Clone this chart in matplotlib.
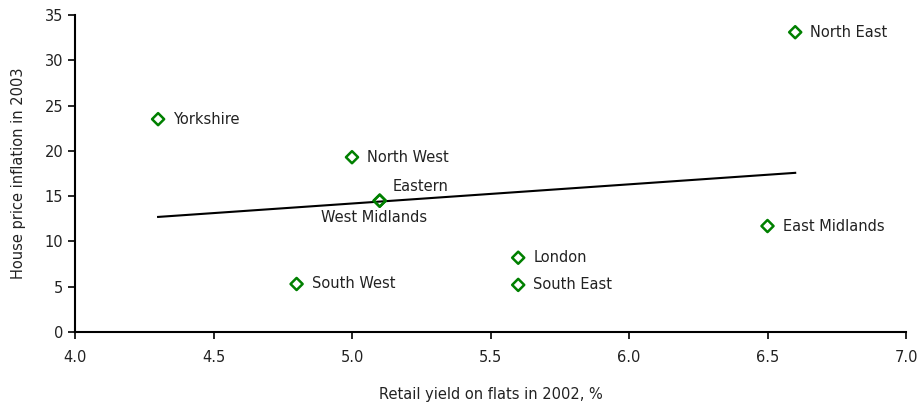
import numpy as np
import matplotlib

matplotlib.use("Agg")
import matplotlib.pyplot as plt  # noqa: E402

regions = ["Yorkshire", "North West", "Eastern", "West Midlands", "South West",
           "London", "South East", "East Midlands", "North East"]
retail_yield = [4.3, 5.0, 5.1, 5.1, 4.8, 5.6, 5.6, 6.5, 6.6]
house_inflation = [23.5, 19.3, 14.5, 14.5, 5.3, 8.2, 5.2, 11.7, 33.1]

# label offsets in points (dx, dy, ha, va)
label_pos = {
    "Eastern": (9, 10, "left", "center"),
    "West Midlands": (-4, -12, "center", "center"),
}

plt.rcParams["font.family"] = ["Verdana", "DejaVu Sans"]

fig = plt.figure(figsize=(9.19, 4.07), dpi=100)
ax = fig.add_axes([75 / 919, 1 - 332 / 407, 831 / 919, 317 / 407])

x = np.array(retail_yield)
y = np.array(house_inflation)
slope, intercept = np.polyfit(x, y, 1)
xs = np.array([x.min(), x.max()])
ax.plot(xs, slope * xs + intercept, color="black", linewidth=1.5, zorder=2)

ax.scatter(x, y, marker="D", s=38, facecolors="none", edgecolors="#008000",
           linewidths=1.8, zorder=3)

for name, xi, yi in zip(regions, retail_yield, house_inflation):
    dx, dy, ha, va = label_pos.get(name, (11, 0, "left", "center"))
    ax.annotate(name, (xi, yi), xytext=(dx, dy), textcoords="offset points",
                ha=ha, va=va, fontsize=10.5, color="#222222")

ax.set_xlim(4.0, 7.0)
ax.set_ylim(0, 35)
ax.set_xticks(np.arange(4.0, 7.01, 0.5))
ax.set_xticklabels([f"{v:.1f}" for v in np.arange(4.0, 7.01, 0.5)])
ax.set_yticks(range(0, 36, 5))

for side in ("top", "right"):
    ax.spines[side].set_visible(False)
for side in ("left", "bottom"):
    ax.spines[side].set_linewidth(1.5)
ax.tick_params(axis="both", labelsize=10.5, width=1.2, length=5, colors="black",
               labelcolor="#222222")
ax.tick_params(axis="x", pad=8)

ax.set_xlabel("Retail yield on flats in 2002, %", fontsize=10.5, labelpad=16,
              color="#222222")
ax.set_ylabel("House price inflation in 2003", fontsize=10.5, labelpad=13,
              color="#222222")

fig.savefig("out.png", dpi=100)
